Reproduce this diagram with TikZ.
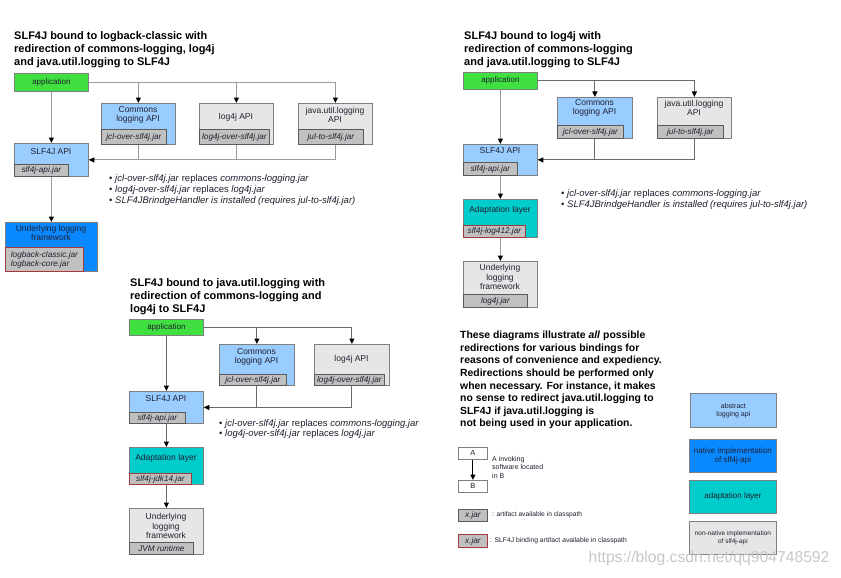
\documentclass[tikz,border=0pt]{standalone}
\usepackage{fontspec}
\setmainfont{Liberation Sans}
\usetikzlibrary{arrows.meta}
\definecolor{cgreen}{HTML}{40E040}
\definecolor{clblue}{HTML}{99CCFF}
\definecolor{cdblue}{HTML}{0A88FF}
\definecolor{cteal}{HTML}{00CCCC}
\definecolor{clgray}{HTML}{E6E6E6}
\definecolor{cjar}{HTML}{C0C0C0}
\definecolor{cborder}{HTML}{7F7F7F}
\definecolor{cjarborder}{HTML}{5A5A5A}
\definecolor{cred}{HTML}{A33A3A}
\definecolor{cline}{HTML}{9A9A9A}
\definecolor{cdline}{HTML}{6A6A6A}
\definecolor{ctext}{HTML}{202030}
\begin{document}
\begin{tikzpicture}[x=1pt,y=-1pt,
  bx/.style={draw=cborder, line width=0.8pt, anchor=north west, inner sep=0pt},
  jar/.style={draw=cjarborder, fill=cjar, line width=0.8pt, anchor=south west, inner sep=0pt,
     font=\fontsize{8.2}{9}\selectfont\itshape, text=ctext},
  redjar/.style={jar, draw=cred},
  lbl/.style={align=center, inner sep=0pt, text=ctext, font=\fontsize{8.5}{9.5}\selectfont},
  ttl/.style={align=left, anchor=north west, inner sep=0pt, font=\fontsize{11}{13}\selectfont\bfseries},
  bul/.style={align=left, anchor=north west, inner sep=0pt, text=ctext, font=\fontsize{9.5}{11}\selectfont},
  conn/.style={draw=cline, line width=1pt, -{Triangle[length=5.5pt,width=5pt,color=black]}},
  lnk/.style={draw=cline, line width=1pt},
  dconn/.style={conn, draw=cdline},
  dlnk/.style={lnk, draw=cdline}]
\path[use as bounding box, fill=white] (0,0) rectangle (841,578);

% ================= Top-left diagram =================
\node[ttl] (t1) at (14,31) {SLF4J bound to logback-classic with\\redirection of commons-logging, log4j\\and java.util.logging to SLF4J};
\node[bx, fill=cgreen, minimum width=74pt, minimum height=18pt] (app1) at (14,73) {};
\node[lbl, font=\fontsize{8}{9}\selectfont] (app1t) at (app1.center) {application};

\node[bx, fill=clblue, minimum width=74pt, minimum height=41pt] (cl1) at (101,103) {};
\node[lbl] (cl1t) at (138,115) {Commons\\logging API};
\node[jar, minimum width=65pt, minimum height=15pt] (cl1j) at (cl1.south west) {jcl-over-slf4j.jar};

\node[bx, fill=clgray, minimum width=74pt, minimum height=41pt] (l41) at (199,103) {};
\node[lbl] (l41t) at (236,117) {log4j API};
\node[jar, minimum width=70pt, minimum height=15pt] (l41j) at (l41.south west) {log4j-over-slf4j.jar};

\node[bx, fill=clgray, minimum width=74pt, minimum height=41pt] (jul1) at (298,103) {};
\node[lbl] (jul1t) at (335,115) {java.util.logging\\API};
\node[jar, minimum width=65pt, minimum height=15pt] (jul1j) at (jul1.south west) {jul-to-slf4j.jar};

\node[bx, fill=clblue, minimum width=74pt, minimum height=33pt] (slf1) at (14,143) {};
\node[lbl] (slf1t) at (51,152) {SLF4J API};
\node[jar, minimum width=54pt, minimum height=12pt] (slf1j) at (slf1.south west) {slf4j-api.jar};

\node[bx, fill=cdblue, minimum width=92pt, minimum height=49pt] (und1) at (5,222) {};
\node[lbl] (und1t) at (51,233) {Underlying logging\\framework};
\node[redjar, minimum width=78pt, minimum height=24pt, align=left] (und1j) at (und1.south west) {logback-classic.jar\\logback-core.jar};

\draw[conn] (app1.east) -| (cl1.north);
\draw[conn] (app1.east) -| (l41.north);
\draw[conn] (app1.east) -| (jul1.north);
\draw[conn] (app1.south) -- (slf1.north);
\draw[lnk] (cl1.south) |- (slf1.east);
\draw[lnk] (l41.south) |- (slf1.east);
\draw[conn] (jul1.south) |- (slf1.east);
\draw[conn] (slf1.south) -- (und1.north);

\node[bul] (b1) at (109,174) {• \textit{jcl-over-slf4j.jar} replaces \textit{commons-logging.jar}\\
• \textit{log4j-over-slf4j.jar} replaces \textit{log4j.jar}\\
• \textit{SLF4JBrindgeHandler is installed (requires jul-to-slf4j.jar)}};

% ================= Top-right diagram =================
\node[ttl] (t2) at (464,31) {SLF4J bound to log4j with\\redirection of commons-logging\\and java.util.logging to SLF4J};
\node[bx, fill=cgreen, minimum width=74pt, minimum height=17pt] (app2) at (463,72) {};
\node[lbl, font=\fontsize{8}{9}\selectfont] (app2t) at (app2.center) {application};

\node[bx, fill=clblue, minimum width=75pt, minimum height=41pt] (cl2) at (557,97) {};
\node[lbl] (cl2t) at (594.5,108) {Commons\\logging API};
\node[jar, minimum width=66pt, minimum height=13pt] (cl2j) at (cl2.south west) {jcl-over-slf4j.jar};

\node[bx, fill=clgray, minimum width=74pt, minimum height=41pt] (jul2) at (657,97) {};
\node[lbl] (jul2t) at (694,108) {java.util.logging\\API};
\node[jar, minimum width=66pt, minimum height=13pt] (jul2j) at (jul2.south west) {jul-to-slf4j.jar};

\node[bx, fill=clblue, minimum width=74pt, minimum height=31pt] (slf2) at (463,144) {};
\node[lbl] (slf2t) at (500,151) {SLF4J API};
\node[jar, minimum width=54pt, minimum height=13pt] (slf2j) at (slf2.south west) {slf4j-api.jar};

\node[bx, fill=cteal, minimum width=74pt, minimum height=38pt] (ad2) at (463,199) {};
\node[lbl] (ad2t) at (500,210) {Adaptation layer};
\node[redjar, minimum width=62pt, minimum height=12pt] (ad2j) at (ad2.south west) {slf4j-log412.jar};

\node[bx, fill=clgray, minimum width=74pt, minimum height=46pt] (und2) at (463,261) {};
\node[lbl] (und2t) at (500,277) {Underlying\\logging\\framework};
\node[jar, minimum width=64pt, minimum height=13pt] (und2j) at (und2.south west) {log4j.jar};

\draw[dconn] (app2.east) -| (cl2.north);
\draw[dconn] (app2.east) -| (jul2.north);
\draw[conn] (app2.south) -- (slf2.north);
\draw[dlnk] (cl2.south) |- (slf2.east);
\draw[dconn] (jul2.south) |- (slf2.east);
\draw[conn] (slf2.south) -- (ad2.north);
\draw[conn] (ad2.south) -- (und2.north);

\begin{scope}
\clip (550,185) rectangle (807,215);
\node[bul] (b2) at (561,189) {• \textit{jcl-over-slf4j.jar} replaces \textit{commons-logging.jar}\\
• \textit{SLF4JBrindgeHandler is installed (requires jul-to-slf4j.jar)}};
\end{scope}

% ================= Bottom-left diagram =================
\node[ttl] (t3) at (130,278) {SLF4J bound to java.util.logging with\\redirection of commons-logging and\\log4j to SLF4J};
\node[bx, fill=cgreen, minimum width=74pt, minimum height=16pt] (app3) at (129,319) {};
\node[lbl, font=\fontsize{8}{9}\selectfont] (app3t) at (app3.center) {application};

\node[bx, fill=clblue, minimum width=75pt, minimum height=41pt] (cl3) at (219,344) {};
\node[lbl] (cl3t) at (256.5,357) {Commons\\logging API};
\node[jar, minimum width=67pt, minimum height=11pt] (cl3j) at (cl3.south west) {jcl-over-slf4j.jar};

\node[bx, fill=clgray, minimum width=75pt, minimum height=41pt] (l43) at (314,344) {};
\node[lbl] (l43t) at (351.5,359) {log4j API};
\node[jar, minimum width=70pt, minimum height=11pt] (l43j) at (l43.south west) {log4j-over-slf4j.jar};

\node[bx, fill=clblue, minimum width=74pt, minimum height=32pt] (slf3) at (129,391) {};
\node[lbl] (slf3t) at (166,399) {SLF4J API};
\node[jar, minimum width=56pt, minimum height=11pt] (slf3j) at (slf3.south west) {slf4j-api.jar};

\node[bx, fill=cteal, minimum width=74pt, minimum height=37pt] (ad3) at (129,447) {};
\node[lbl] (ad3t) at (166,458) {Adaptation layer};
\node[redjar, minimum width=62pt, minimum height=11pt] (ad3j) at (ad3.south west) {slf4j-jdk14.jar};

\node[bx, fill=clgray, minimum width=74pt, minimum height=46pt] (und3) at (129,508) {};
\node[lbl] (und3t) at (166,526) {Underlying\\logging\\framework};
\node[jar, minimum width=64pt, minimum height=12pt] (und3j) at (und3.south west) {JVM runtime};

\draw[dconn] (app3.east) -| (cl3.north);
\draw[dconn] (app3.east) -| (l43.north);
\draw[dconn] (app3.south) -- (slf3.north);
\draw[dlnk] (cl3.south) |- (slf3.east);
\draw[dconn] (l43.south) |- (slf3.east);
\draw[dconn] (slf3.south) -- (ad3.north);
\draw[dconn] (ad3.south) -- (und3.north);

\node[bul, font=\fontsize{9.5}{10}\selectfont] (b3) at (219,419) {• \textit{jcl-over-slf4j.jar} replaces \textit{commons-logging.jar}\\
• \textit{log4j-over-slf4j.jar} replaces \textit{log4j.jar}};

% ================= Bottom-right: text and legend =================
\node[ttl, font=\fontsize{10.4}{12.6}\selectfont\bfseries] (para) at (460,331) {These diagrams illustrate \textit{all} possible\\
redirections for various bindings for\\
reasons of convenience and expediency.\\
Redirections should be performed only\\
when necessary. For instance, it makes\\
no sense to redirect java.util.logging to\\
SLF4J if java.util.logging is\\
not being used in your application.};

\node[bx, fill=clblue, minimum width=86pt, minimum height=34pt] (abs) at (690,393) {};
\node[lbl, font=\fontsize{7}{8}\selectfont] (abst) at (abs.center) {abstract\\logging api};
\node[bx, fill=cdblue, minimum width=87pt, minimum height=33pt] (nat) at (689,439) {};
\node[lbl, font=\fontsize{8}{9}\selectfont] (natt) at (nat.center) {native implementation\\of slf4j-api};
\node[bx, fill=cteal, minimum width=87pt, minimum height=33pt] (adl) at (689,480) {};
\node[lbl, font=\fontsize{8}{9}\selectfont] (adlt) at (adl.center) {adaptation layer};
\node[bx, fill=clgray, minimum width=87pt, minimum height=33pt] (nn) at (689,521) {};
\node[lbl, font=\fontsize{6.5}{7.5}\selectfont] (nnt) at (nn.center) {non-native implementation\\of slf4j-api};

\node[bx, fill=white, minimum width=29pt, minimum height=12pt] (la) at (458,447) {};
\node[lbl, font=\fontsize{7.5}{8}\selectfont] (lat) at (la.center) {A};
\node[bx, fill=white, minimum width=29pt, minimum height=12pt] (lb) at (458,480) {};
\node[lbl, font=\fontsize{7.5}{8}\selectfont] (lbt) at (lb.center) {B};
\draw[line width=1pt, draw=black, -{Triangle[length=5.5pt,width=5pt]}] (la.south) -- (lb.north);
\node[bul, font=\fontsize{7}{8.5}\selectfont] (lab) at (492,456) {A invoking\\software located\\in B};

\node[jar, anchor=north west, minimum width=29pt, minimum height=12pt] (xj1) at (458,509) {x.jar};
\node[lbl, anchor=west, font=\fontsize{6.7}{7.5}\selectfont] (xj1t) at (492,515) {: artifact available in classpath};
\node[redjar, anchor=north west, minimum width=29pt, minimum height=13pt] (xj2) at (458,534) {x.jar};
\node[lbl, anchor=west, font=\fontsize{6.8}{7.5}\selectfont] (xj2t) at (490,540.5) {: SLF4J binding artifact available in classpath};

\node[inner sep=0pt, text=black!22, font=\fontsize{15.7}{17}\selectfont] (wm) at (709,558) {https://blog.csdn.net/qq904748592};
\end{tikzpicture}
\end{document}
